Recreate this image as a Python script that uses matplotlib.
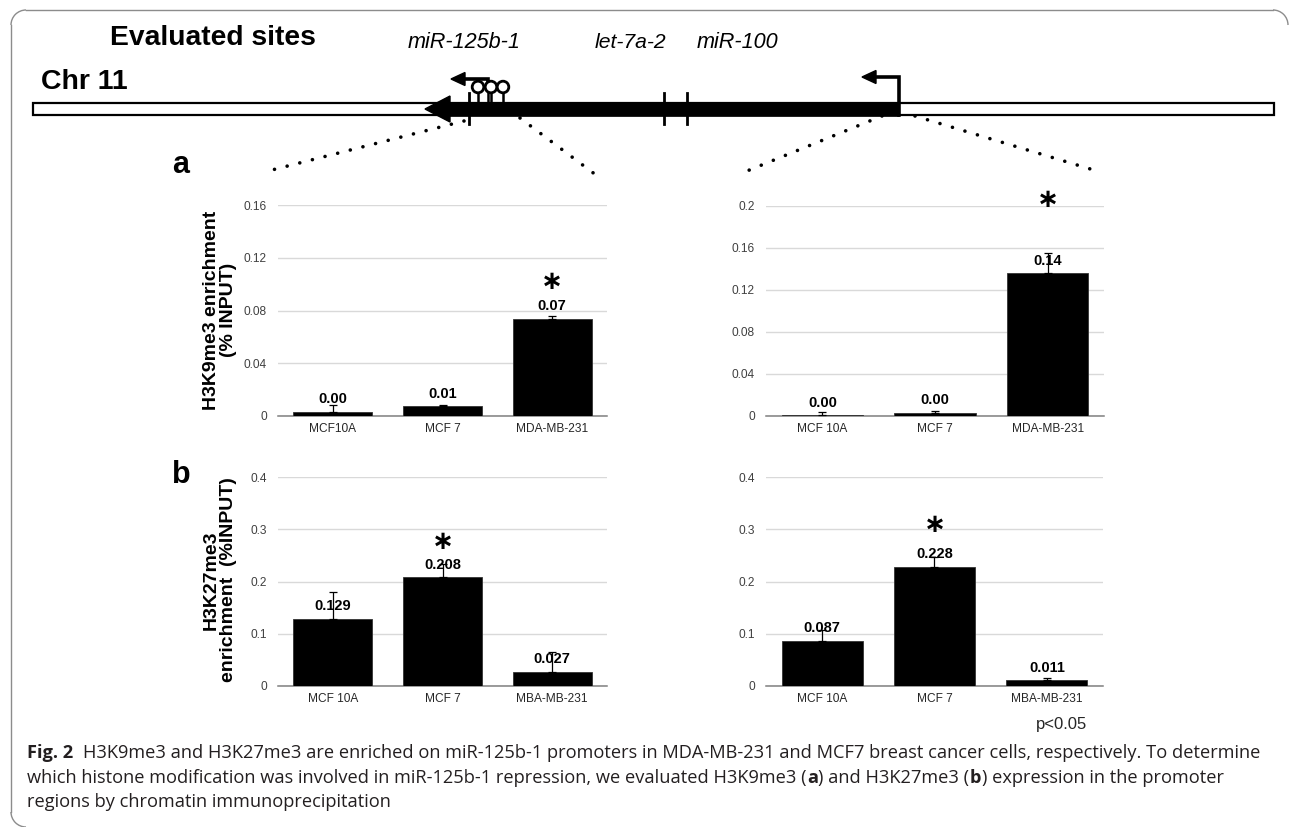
# ChIP: H3K9me3 / H3K27me3 enrichment on miR-125b-1 promoter regions

import matplotlib
matplotlib.use("Agg")
from matplotlib import pyplot as plt
from matplotlib.patches import Rectangle, Polygon, Circle, Arc
import numpy as np

plt.rcParams['font.family'] = ['Liberation Sans', 'DejaVu Sans']

W, H = 1293, 827

# data
cells_a_left = ["MCF10A", "MCF 7", "MDA-MB-231"]
cells_a_right = ["MCF 10A", "MCF 7", "MDA-MB-231"]
cells_b = ["MCF 10A", "MCF 7", "MBA-MB-231"]

k9_left = [0.003, 0.0073, 0.0736]
k9_left_err = [0.005, 0.0013, 0.0022]
k9_left_lab = ["0.00", "0.01", "0.07"]

k9_right = [0.0005, 0.003, 0.136]
k9_right_err = [0.0033, 0.0018, 0.019]
k9_right_lab = ["0.00", "0.00", "0.14"]

k27_left = [0.129, 0.208, 0.027]
k27_left_err = [0.051, 0.025, 0.039]

k27_right = [0.087, 0.228, 0.011]
k27_right_err = [0.021, 0.018, 0.005]

caption_1 = ("H3K9me3 and H3K27me3 are enriched on miR-125b-1 promoters in MDA-MB-231 "
             "and MCF7 breast cancer cells, respectively. To determine")
caption_3 = "regions by chromatin immunoprecipitation"

fig = plt.figure(figsize=(W / 100, H / 100), dpi=100)

# full-figure axes in pixel units for the gene diagram, frame and caption
ax0 = fig.add_axes([0, 0, 1, 1], zorder=0)
ax0.set_xlim(0, W)
ax0.set_ylim(H, 0)
ax0.axis("off")


def px(x0, y0, x1, y1):
    return [x0 / W, 1 - y1 / H, (x1 - x0) / W, (y1 - y0) / H]


def bar_panel(rect, cats, vals, errs, labels, ymax, step, star_i, star_y):
    ax = fig.add_axes(px(*rect), zorder=2)
    ax.patch.set_alpha(0)
    x = np.arange(len(vals))
    ax.bar(x, vals, width=0.72, color="black", edgecolor="#333333", lw=0.6, zorder=3)
    ax.errorbar(x, vals, yerr=[np.zeros(len(vals)), errs], fmt="none", ecolor="black",
                elinewidth=0.9, capsize=3, capthick=0.9, zorder=4)
    for xi, v, lab in zip(x, vals, labels):
        ax.annotate(lab, (xi, v), xytext=(0, 4), textcoords="offset points",
                    ha="center", va="bottom", fontsize=10.5, fontweight="bold", zorder=5)
    # significance mark (asterisk operator keeps the text box tight round the glyph)
    ax.text(star_i, star_y, "\u2217", ha="center", va="center", fontsize=19,
            fontweight="bold", family=["DejaVu Sans"])
    ax.set_xlim(-0.5, len(vals) - 0.5)
    ax.set_ylim(0, ymax)
    ax.set_yticks(np.arange(0, ymax + step / 2, step))
    ax.yaxis.set_major_formatter(lambda v, p: "0" if v == 0 else f"{v:g}")
    ax.set_xticks(x)
    ax.set_xticklabels(cats)
    ax.tick_params(axis="y", length=0, pad=8, labelsize=8.6, labelcolor="#404040")
    ax.tick_params(axis="x", length=0, pad=5, labelsize=8.6, labelcolor="#262626")
    for s in ["top", "right", "left"]:
        ax.spines[s].set_visible(False)
    ax.spines["bottom"].set_color("#808080")
    ax.spines["bottom"].set_linewidth(1.1)
    ax.yaxis.grid(True, color="#d9d9d9", lw=1)
    ax.set_axisbelow(True)
    return ax


bar_panel((278, 205, 607, 416), cells_a_left, k9_left, k9_left_err, k9_left_lab,
          0.16, 0.04, 2, 0.1016)
bar_panel((766, 206, 1104, 416), cells_a_right, k9_right, k9_right_err, k9_right_lab,
          0.2, 0.04, 2, 0.2055)
bar_panel((278, 477, 607, 686), cells_b, k27_left, k27_left_err,
          [f"{v:.3f}" for v in k27_left], 0.4, 0.1, 1, 0.276)
bar_panel((766, 477, 1103, 686), cells_b, k27_right, k27_right_err,
          [f"{v:.3f}" for v in k27_right], 0.4, 0.1, 1, 0.308)

# axis titles and panel letters
ax0.text(220, 310, "H3K9me3 enrichment\n(% INPUT)", rotation=90, ha="center", va="center",
         multialignment="center", fontsize=14, fontweight="bold", linespacing=1.0)
ax0.text(220, 580, "H3K27me3\nenrichment  (%INPUT)", rotation=90, ha="center", va="center",
         multialignment="center", fontsize=14, fontweight="bold", linespacing=1.0)
ax0.text(172, 165, "a", fontsize=22, fontweight="bold", ha="left", va="center")
ax0.text(172, 475, "b", fontsize=22, fontweight="bold", ha="left", va="center")
ax0.text(1087, 725, "p<0.05", fontsize=12, ha="right", va="center", color="#262626")

# gene diagram
ax0.text(110, 38, "Evaluated sites", fontsize=20.3, fontweight="bold", va="center")
ax0.text(41, 82, "Chr 11", fontsize=20.5, fontweight="bold", va="center")
ax0.text(408, 43, "miR-125b-1", fontsize=15.6, style="italic", va="center")
ax0.text(595, 43, "let-7a-2", fontsize=15.2, style="italic", va="center")
ax0.text(697, 43, "miR-100", fontsize=15.6, style="italic", va="center")

ax0.add_patch(Rectangle((33, 103), 1241, 12, facecolor="white", edgecolor="black", lw=1.6))
ax0.add_patch(Rectangle((448, 102.5), 451, 13, facecolor="black", edgecolor="black", lw=0.5))
ax0.add_patch(Polygon([(425, 109), (450, 96), (450, 122)], closed=True, color="black"))
for xt in [469, 664, 687]:
    ax0.plot([xt, xt], [93, 124], color="black", lw=2)
for xs in [478, 488, 491, 503]:
    ax0.plot([xs, xs], [88, 103], color="black", lw=1.8)
ax0.plot([488, 488, 462], [88, 79, 79], color="black", lw=2.6, solid_joinstyle="miter")
ax0.add_patch(Polygon([(451, 79), (465, 72.5), (465, 85.5)], closed=True, color="black"))
for xc in [478, 491, 503]:
    ax0.add_patch(Circle((xc, 87), 5.8, facecolor="white", edgecolor="black", lw=2, zorder=3))
ax0.plot([899, 899, 874], [115, 77, 77], color="black", lw=2.6, solid_joinstyle="miter")
ax0.add_patch(Polygon([(862, 77), (876, 70.5), (876, 83.5)], closed=True, color="black"))

dots = dict(color="black", lw=2.6, linestyle=(0, (0.01, 3.6)), dash_capstyle="round")
ax0.plot([464, 268], [121, 171], **dots)
ax0.plot([520, 600], [118, 178], **dots)
ax0.plot([882, 747], [116, 171], **dots)
ax0.plot([915, 1097], [116, 171], **dots)

# frame: top and left edges, rounded corners (y axis is inverted here)
fc = "#8c8c8c"
r = 15
ax0.plot([11 + r, 1288 - r], [10, 10], color=fc, lw=1)
ax0.plot([11, 11], [10 + r, 827 - r], color=fc, lw=1)
ax0.add_patch(Arc((11 + r, 10 + r), 2 * r, 2 * r, theta1=180, theta2=270, color=fc, lw=1))
ax0.add_patch(Arc((1288 - r, 10 + r), 2 * r, 2 * r, theta1=270, theta2=360, color=fc, lw=1))
ax0.add_patch(Arc((11 + r, 827 - r), 2 * r, 2 * r, theta1=90, theta2=180, color=fc, lw=1))

# caption
cap_font = ["Open Sans", "DejaVu Sans"]
cap_col = "#231f20"
rend = fig.canvas.get_renderer()


def put_line(x, y, pieces, size):
    for s, wt, gap in pieces:
        t = ax0.text(x, y, s, fontsize=size, fontweight=wt, family=cap_font,
                     va="center", ha="left", color=cap_col)
        x += t.get_window_extent(renderer=rend).width + gap
    return x


probe = ax0.text(0, 0, caption_1, fontsize=12, family=cap_font)
w_probe = probe.get_window_extent(renderer=rend).width
probe.remove()
fs = 12 * (1262 - 27 - 60) / w_probe

put_line(27, 753, [("Fig. 2", "bold", 10), (caption_1, "normal", 0)], fs)
put_line(27, 778, [("which histone modification was involved in miR-125b-1 repression, "
                    "we evaluated H3K9me3 (", "normal", 0.5), ("a", "bold", 0.5),
                   (") and H3K27me3 (", "normal", 0.5), ("b", "bold", 0.5),
                   (") expression in the promoter", "normal", 0)], fs)
put_line(27, 802, [(caption_3, "normal", 0)], fs)

plt.savefig("out.png", dpi=100)
